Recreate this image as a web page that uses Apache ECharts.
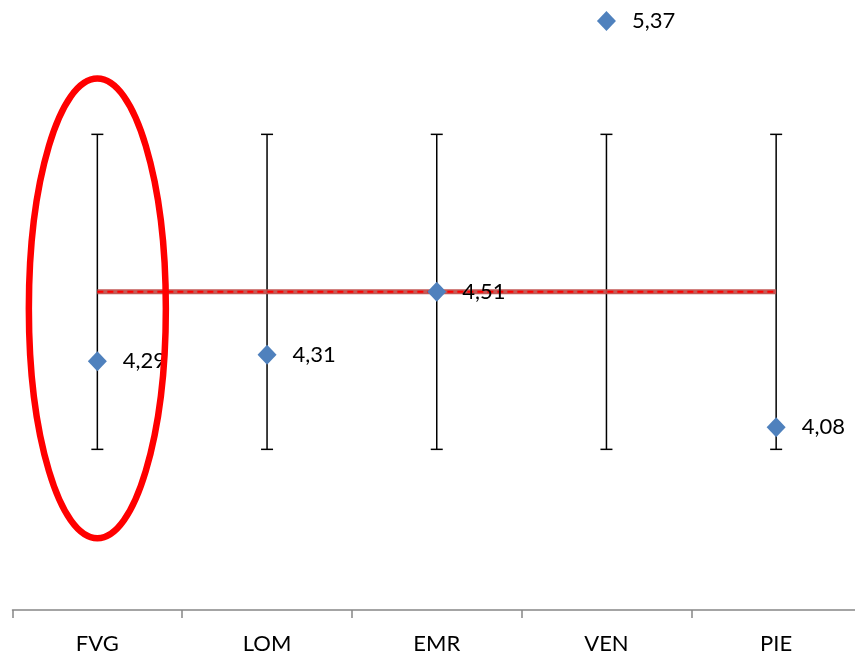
<!DOCTYPE html>
<html>
<head>
<meta charset="utf-8">
<script src="https://cdn.jsdelivr.net/npm/echarts@6/dist/echarts.min.js"></script>
<style>
html,body{margin:0;padding:0;background:#fff;width:855px;height:655px;overflow:hidden;position:relative;}
#c{position:absolute;left:0;top:-20px;width:861px;height:675px;}
</style>
</head>
<body>
<div id="c"></div>
<script>
const categories = ['FVG', 'LOM', 'EMR', 'VEN', 'PIE'];
const values = [4.29, 4.31, 4.51, 5.37, 4.08];
const errLow = [4.01, 4.01, 4.01, 4.01, 4.01];
const errHigh = [5.01, 5.01, 5.01, 5.01, 5.01];
const meanValue = [4.51, 4.51, 4.51, 4.51, 4.51];
const highlight = { category: 'FVG', low: 3.728, high: 5.187 };

const FONT = 'Lato';
const chart = echarts.init(document.getElementById('c'), null, { renderer: 'canvas' });

chart.setOption({
  animation: false,
  backgroundColor: '#ffffff',
  grid: { left: 12.5, right: 0, top: 0, bottom: 44.5, containLabel: false },
  xAxis: {
    type: 'category',
    data: categories,
    boundaryGap: true,
    axisLine: { show: true, lineStyle: { color: '#868686', width: 1.5 } },
    axisTick: { show: true, length: 8, alignWithLabel: false, lineStyle: { color: '#868686', width: 1.5 } },
    axisLabel: { color: '#000', fontFamily: FONT, fontSize: 22, margin: 23 },
    splitLine: { show: false }
  },
  yAxis: {
    type: 'value',
    min: 3.5,
    max: 5.5,
    show: false,
    splitLine: { show: false }
  },
  series: [
    {
      type: 'custom',
      name: 'err',
      z: 1,
      data: categories.map((c, i) => [i, errLow[i], errHigh[i]]),
      renderItem: function (params, api) {
        const lo = api.coord([api.value(0), api.value(1)]);
        const hi = api.coord([api.value(0), api.value(2)]);
        const w = 6;
        const style = { stroke: '#000', lineWidth: 1.5 };
        return {
          type: 'group',
          children: [
            { type: 'line', shape: { x1: lo[0], y1: lo[1], x2: hi[0], y2: hi[1] }, style: style },
            { type: 'line', shape: { x1: lo[0] - w, y1: lo[1], x2: lo[0] + w, y2: lo[1] }, style: style },
            { type: 'line', shape: { x1: hi[0] - w, y1: hi[1], x2: hi[0] + w, y2: hi[1] }, style: style }
          ]
        };
      }
    },
    {
      type: 'line',
      name: 'meanThick',
      z: 2,
      data: meanValue,
      symbol: 'none',
      lineStyle: { color: 'rgba(192,80,77,0.95)', width: 5 }
    },
    {
      type: 'line',
      name: 'meanDash',
      z: 3,
      data: meanValue,
      symbol: 'none',
      lineStyle: { color: '#ff0000', width: 2, type: [6, 4] }
    },
    {
      type: 'scatter',
      name: 'values',
      z: 4,
      data: values,
      symbol: 'diamond',
      symbolSize: [19, 20],
      itemStyle: { color: '#4f81bd', opacity: 1 },
      label: {
        show: true,
        position: 'right',
        distance: 16,
        color: '#000',
        fontFamily: FONT,
        fontSize: 22,
        formatter: p => String(p.value.toFixed(2)).replace('.', ',')
      }
    },
    {
      type: 'custom',
      name: 'highlight',
      z: 5,
      data: [[categories.indexOf(highlight.category), highlight.low, highlight.high]],
      renderItem: function (params, api) {
        const lo = api.coord([api.value(0), api.value(1)]);
        const hi = api.coord([api.value(0), api.value(2)]);
        const cx = lo[0];
        const cy = (lo[1] + hi[1]) / 2;
        const ry = Math.abs(lo[1] - hi[1]) / 2;
        return {
          type: 'ellipse',
          shape: { cx: cx, cy: cy, rx: 68.5, ry: ry },
          style: { fill: 'none', stroke: '#ff0000', lineWidth: 6.5 }
        };
      }
    }
  ]
});
</script>
</body>
</html>
